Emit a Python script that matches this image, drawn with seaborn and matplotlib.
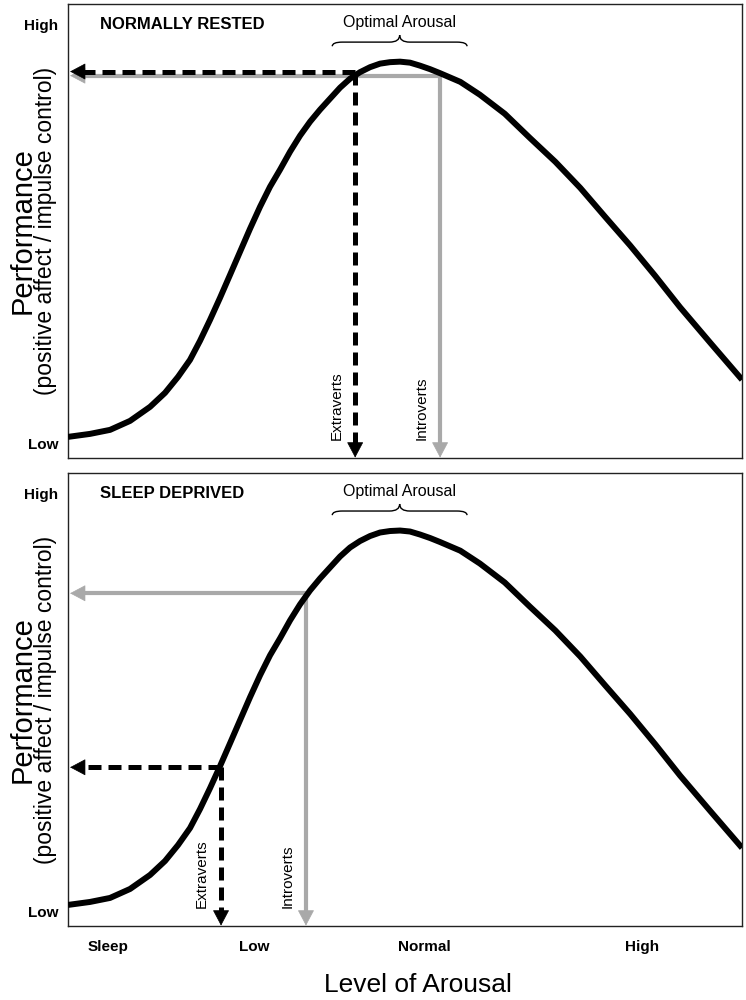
import numpy as np
import pandas as pd
import matplotlib
matplotlib.use("Agg")
import matplotlib.pyplot as plt
from matplotlib.path import Path
from matplotlib.patches import PathPatch
import seaborn as sns

# inverted-U curve (arousal 0-100, performance 0-100)
arousal = [0, 3.26, 6.23, 9.20, 12.17, 14.39, 16.32, 18.10, 19.58, 21.07,
           22.55, 24.04, 25.52, 27.00, 28.49, 29.97, 31.45, 32.94, 34.42,
           35.91, 37.39, 38.87, 40.36, 41.84, 43.32, 44.81, 46.29, 47.77,
           49.26, 50.74, 52.23, 53.71, 55.19, 58.2, 61.1, 64.8, 68.5, 72.3,
           76.0, 79.7, 83.4, 87.1, 90.8, 95.4, 100]
performance = [0, 0.72, 1.69, 3.86, 7.25, 10.63, 14.49, 18.60, 23.19, 28.26,
               33.57, 39.13, 44.69, 50.24, 55.56, 60.39, 64.49, 68.84, 72.71,
               76.09, 78.99, 81.64, 84.30, 86.47, 88.04, 89.25, 90.10, 90.46,
               90.58, 90.34, 89.61, 88.77, 87.80, 85.7, 82.6, 78.0, 72.2, 66.4,
               60.1, 53.1, 46.2, 38.9, 31.3, 22.5, 13.8]

panel_titles = ["NORMALLY RESTED", "SLEEP DEPRIVED"]
# where each group sits on the curve, per panel
extravert_x = [42.6, 22.7]
extravert_y = [88.2, 33.3]
introvert_x = [55.2, 35.3]
introvert_y = [87.2, 75.4]

optimal_range = (39.2, 59.2)

x_tick_pos = [6.0, 27.7, 52.9, 85.2]
x_tick_labels = ["Sleep", "Low", "Normal", "High"]
y_tick_pos = [-1.5, 99.5]
y_tick_labels = ["Low", "High"]

df = pd.DataFrame({"arousal": arousal, "performance": performance})

sns.set_theme(style="white")
plt.rcParams["font.family"] = ["Liberation Sans", "DejaVu Sans"]
plt.rcParams["text.color"] = "black"
plt.rcParams["xtick.color"] = "black"
plt.rcParams["ytick.color"] = "black"
plt.rcParams["axes.labelcolor"] = "black"

GRAY = "#a9a9a9"
XLIM = (0, 100)
YLIM = (-5.1, 104.5)
HEAD_DX = 2.0   # arrow head length in data units, horizontal
HEAD_DY = 3.1   # same, vertical


def draw_arrow(ax, x0, y0, x1, y1, color, lw, dashed, z):
    # shaft up to the head base, then a filled head
    if x1 != x0:
        bx, by = x1 + HEAD_DX, y1
    else:
        bx, by = x1, y1 + HEAD_DY
    ls = (0, (2.6, 1.4)) if dashed else "-"
    ax.plot([x0, bx], [y0, by], color=color, lw=lw, ls=ls,
            solid_capstyle="butt", dash_capstyle="butt", zorder=z)
    ax.annotate("", xy=(x1, y1), xytext=(bx, by),
                arrowprops=dict(arrowstyle="-|>,head_length=0.85,head_width=0.45",
                                color=color, lw=0.5, mutation_scale=12,
                                shrinkA=0, shrinkB=0),
                zorder=z)


def draw_brace(ax, x0, x1, y_end, y_flat, y_tip):
    xm = (x0 + x1) / 2
    r = 1.5
    verts = [(x0, y_end), (x0, y_flat), (x0 + r, y_flat), (xm - r, y_flat),
             (xm, y_flat), (xm, y_tip),
             (xm, y_tip), (xm, y_flat), (xm + r, y_flat), (x1 - r, y_flat),
             (x1, y_flat), (x1, y_end)]
    codes = [Path.MOVETO, Path.CURVE3, Path.CURVE3, Path.LINETO,
             Path.CURVE3, Path.CURVE3,
             Path.MOVETO, Path.CURVE3, Path.CURVE3, Path.LINETO,
             Path.CURVE3, Path.CURVE3]
    ax.add_patch(PathPatch(Path(verts, codes), fill=False, lw=1.0,
                           edgecolor="black", zorder=5))


fig = plt.figure(figsize=(7.46, 10), dpi=100)
ax_top = fig.add_axes([0.0912, 0.542, 0.9035, 0.454])
ax_bot = fig.add_axes([0.0912, 0.074, 0.9035, 0.453])

for i, ax in enumerate([ax_top, ax_bot]):
    sns.lineplot(data=df, x="arousal", y="performance", ax=ax, color="black",
                 lw=4.3, zorder=4, solid_capstyle="butt",
                 solid_joinstyle="round")

    # introverts (gray, solid)
    ix, iy = introvert_x[i], introvert_y[i]
    draw_arrow(ax, ix, iy, 0.3, iy, GRAY, 3.0, False, 2)
    draw_arrow(ax, ix, iy, ix, YLIM[0] + 0.1, GRAY, 3.0, False, 2)
    ax.text(ix - 2.7, -0.7, "Introverts", rotation=90, ha="center",
            va="bottom", fontsize=11)

    # extraverts (black, dashed)
    ex, ey = extravert_x[i], extravert_y[i]
    draw_arrow(ax, ex, ey, 0.3, ey, "black", 3.6, True, 3)
    draw_arrow(ax, ex, ey, ex, YLIM[0] + 0.1, "black", 3.6, True, 3)
    ax.text(ex - 2.8, -0.7, "Extraverts", rotation=90, ha="center",
            va="bottom", fontsize=11)

    # optimal arousal brace
    draw_brace(ax, optimal_range[0], optimal_range[1], 94.3, 95.3, 97.0)
    ax.text(sum(optimal_range) / 2, 100.0, "Optimal Arousal", ha="center",
            va="center", fontsize=11.5)

    ax.text(4.75, 99.5, panel_titles[i], ha="left", va="center",
            fontsize=12, fontweight="bold")

    ax.set_xlim(*XLIM)
    ax.set_ylim(*YLIM)
    ax.set_yticks(y_tick_pos, y_tick_labels, fontsize=11, fontweight="bold")
    if i == 1:
        ax.set_xticks(x_tick_pos, x_tick_labels, fontsize=11, fontweight="bold")
    else:
        ax.set_xticks([])
    ax.tick_params(axis="both", length=0)
    ax.tick_params(axis="y", pad=7)
    ax.tick_params(axis="x", pad=10)
    ax.set_xlabel("")
    ax.set_ylabel("")
    for sp in ax.spines.values():
        sp.set_visible(True)
        sp.set_color("#222222")
        sp.set_linewidth(1.0)

    ax.text(-0.068, 0.5, "Performance", transform=ax.transAxes, rotation=90,
            ha="center", va="center", fontsize=21)
    ax.text(-0.034, 0.5, "(positive affect / impulse control)",
            transform=ax.transAxes, rotation=90, ha="center", va="center",
            fontsize=16.5)

fig.text(418 / 746, 1 - 985 / 1000, "Level of Arousal", ha="center",
         va="center", fontsize=19)

fig.savefig("out.png", dpi=100)
